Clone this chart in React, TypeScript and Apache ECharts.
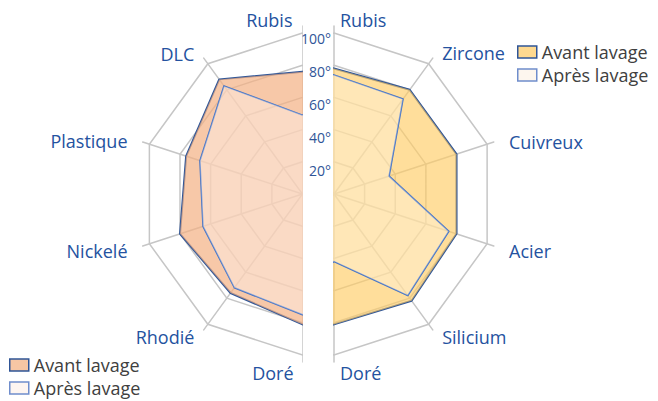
import React, { useEffect, useRef } from 'react';
import * as echarts from 'echarts';

const W = 658;
const H = 401;

// ---- data ----
const leftCategories = ['Rubis', 'DLC', 'Plastique', 'Nickelé', 'Rhodié', 'Doré'];
const leftAvant = [76, 88, 76, 80, 76, 81];
const leftApres = [49, 83, 67, 65, 72, 75];

const rightCategories = ['Rubis', 'Zircone', 'Cuivreux', 'Acier', 'Silicium', 'Doré'];
const rightAvant = [78, 80, 80, 80, 82, 81];
const rightApres = [74, 73, 36, 75, 78, 42];

const seriesNames = ['Avant lavage', 'Après lavage'];
const axisMax = 100;
const tickStep = 20;
const tickSuffix = '°';

// ---- styles ----
const FONT = "'Open Sans', 'Noto Sans', sans-serif";
const NAME_COLOR = '#2452a0';
const TICK_COLOR = '#2f5597';
const GRID = '#c6c6c6';
const LEGEND_TEXT = '#404040';
const LINE_AVANT = '#2f5597';
const LINE_APRES = '#4472c4';

// vertical nudges of side names (px)
const nameDy: Record<string, number> = {
  DLC: 9, Plastique: 4, 'Rhodié': -6, Zircone: 8, Cuivreux: 5, Silicium: -6,
};

function buildOption(isL: boolean) {
  const cx = isL ? 302.5 : 334;
  const cy = 194;
  const cats = isL ? leftCategories : rightCategories;
  const avant = isL ? leftAvant : rightAvant;
  const apres = isL ? leftApres : rightApres;
  // indicator slot -> category index (-1 = hidden half)
  const order = isL ? [0, 1, 2, 3, 4, 5, -1, -1, -1, -1] : [0, -1, -1, -1, -1, 5, 4, 3, 2, 1];
  const last = cats.length - 1;
  const isEnd = (k: number) => k === 0 || k === last;
  const pick = (vals: number[]) => order.map((k) => (k < 0 ? axisMax : vals[k]));

  const baseText = { fontSize: 18, fontFamily: FONT, color: NAME_COLOR };

  const mainRich: Record<string, any> = {};
  cats.forEach((c, k) => {
    if (isEnd(k)) return;
    const dy = nameDy[c] || 0;
    mainRich['k' + k] = {
      ...baseText,
      padding: dy >= 0 ? [2 * dy, 0, 0, 0] : [0, 0, -2 * dy, 0],
    };
  });
  const endRich: Record<string, any> = {
    k0: { ...baseText, padding: isL ? [0, 10, 0, 0] : [0, 0, 0, 6] },
  };
  endRich['k' + last] = { ...baseText, padding: isL ? [10, 9, 0, 0] : [10, 0, 0, 6] };

  const fmt = (name: string) => {
    if (!name) return '';
    const k = cats.indexOf(name);
    return `{k${k}|${name}}`;
  };

  const mainInd = order.map((k) => ({ name: k >= 0 && !isEnd(k) ? cats[k] : '', min: 0, max: axisMax }));
  const axisInd = order.map((k) => ({ name: k >= 0 && isEnd(k) ? cats[k] : '', min: 0, max: axisMax }));

  const fillAvant = isL ? 'rgba(244,177,131,0.7)' : 'rgba(255,204,102,0.65)';
  const fillApres = isL ? 'rgba(255,248,244,0.38)' : 'rgba(255,250,240,0.33)';
  const swatchAvant = isL ? '#f6c6a4' : '#fed990';
  const swatchApres = isL ? '#fdf5f1' : '#fdf6ee';

  return {
    animation: false,
    legend: {
      orient: 'vertical',
      left: isL ? 9 : 517,
      top: isL ? 356 : 43,
      padding: 0,
      itemGap: 5,
      itemWidth: 19,
      itemHeight: 12,
      selectedMode: false,
      textStyle: { fontSize: 18, color: LEGEND_TEXT, fontFamily: FONT },
      data: [
        { name: seriesNames[0], icon: 'rect', itemStyle: { color: swatchAvant, borderColor: LINE_AVANT, borderWidth: 1.5 } },
        { name: seriesNames[1], icon: 'rect', itemStyle: { color: swatchApres, borderColor: '#6f8dcc', borderWidth: 1.5 } },
      ],
    },
    radar: [
      {
        center: [cx, cy],
        radius: 161,
        startAngle: 90,
        splitNumber: axisMax / tickStep,
        shape: 'polygon',
        z: 0,
        indicator: mainInd,
        axisNameGap: 23,
        axisName: { ...baseText, formatter: fmt, rich: mainRich },
        axisLine: { show: false },
        splitLine: { lineStyle: { color: GRID, width: 1.5 } },
        splitArea: { show: false },
        axisTick: { show: false },
        axisLabel: { show: false },
      },
      {
        center: [cx, cy],
        radius: 168,
        startAngle: 90,
        splitNumber: axisMax / tickStep,
        shape: 'polygon',
        z: 1,
        indicator: axisInd,
        axisNameGap: 6,
        axisName: {
          ...baseText,
          align: isL ? 'right' : 'left',
          verticalAlign: 'middle',
          formatter: fmt,
          rich: endRich,
        },
        axisLine: { lineStyle: { color: GRID, width: 1.5 } },
        splitLine: { show: false },
        splitArea: { show: false },
        axisTick: { show: false },
        axisLabel: { show: false },
      },
    ],
    series: [
      {
        type: 'radar',
        radarIndex: 0,
        z: 2,
        symbol: 'none',
        silent: true,
        data: [
          {
            name: seriesNames[0],
            value: pick(avant),
            itemStyle: { color: swatchAvant },
            lineStyle: { color: LINE_AVANT, width: 2 },
            areaStyle: { color: fillAvant, opacity: 1 },
          },
          {
            name: seriesNames[1],
            value: pick(apres),
            itemStyle: { color: swatchApres },
            lineStyle: { color: LINE_APRES, width: 1.5 },
            areaStyle: { color: fillApres, opacity: 1 },
          },
        ],
      },
    ],
  };
}

function buildTickOption() {
  return {
    animation: false,
    polar: { center: [334, 203], radius: 165 },
    angleAxis: { show: false, startAngle: 90, min: 0, max: 360 },
    radiusAxis: {
      min: 0,
      max: axisMax,
      interval: tickStep,
      z: 10,
      axisLine: { show: false },
      axisTick: { show: false },
      splitLine: { show: false },
      axisLabel: {
        formatter: '{value}' + tickSuffix,
        margin: 3,
        color: TICK_COLOR,
        fontSize: 14,
        fontFamily: FONT,
        showMinLabel: false,
      },
    },
    series: [],
  };
}

export default function App() {
  const lRef = useRef<HTMLDivElement>(null);
  const rRef = useRef<HTMLDivElement>(null);
  const tRef = useRef<HTMLDivElement>(null);

  useEffect(() => {
    const l = echarts.init(lRef.current!, null, { renderer: 'svg', width: W, height: H });
    const r = echarts.init(rRef.current!, null, { renderer: 'svg', width: W, height: H });
    const t = echarts.init(tRef.current!, null, { renderer: 'svg', width: W, height: H });
    l.setOption(buildOption(true) as any);
    r.setOption(buildOption(false) as any);
    t.setOption(buildTickOption() as any);
    return () => {
      l.dispose();
      r.dispose();
      t.dispose();
    };
  }, []);

  return (
    <div style={{ position: 'fixed', left: 0, top: 0, width: W, height: H, background: '#fff', overflow: 'hidden' }}>
      <div style={{ position: 'absolute', left: 0, top: 0, width: 303, height: H, overflow: 'hidden' }}>
        <div ref={lRef} style={{ position: 'absolute', left: 0, top: 0, width: W, height: H }} />
      </div>
      <div style={{ position: 'absolute', left: 333, top: 0, width: W - 333, height: H, overflow: 'hidden' }}>
        <div ref={rRef} style={{ position: 'absolute', left: -333, top: 0, width: W, height: H }} />
      </div>
      <div ref={tRef} style={{ position: 'absolute', left: 0, top: 0, width: W, height: H, pointerEvents: 'none' }} />
    </div>
  );
}
